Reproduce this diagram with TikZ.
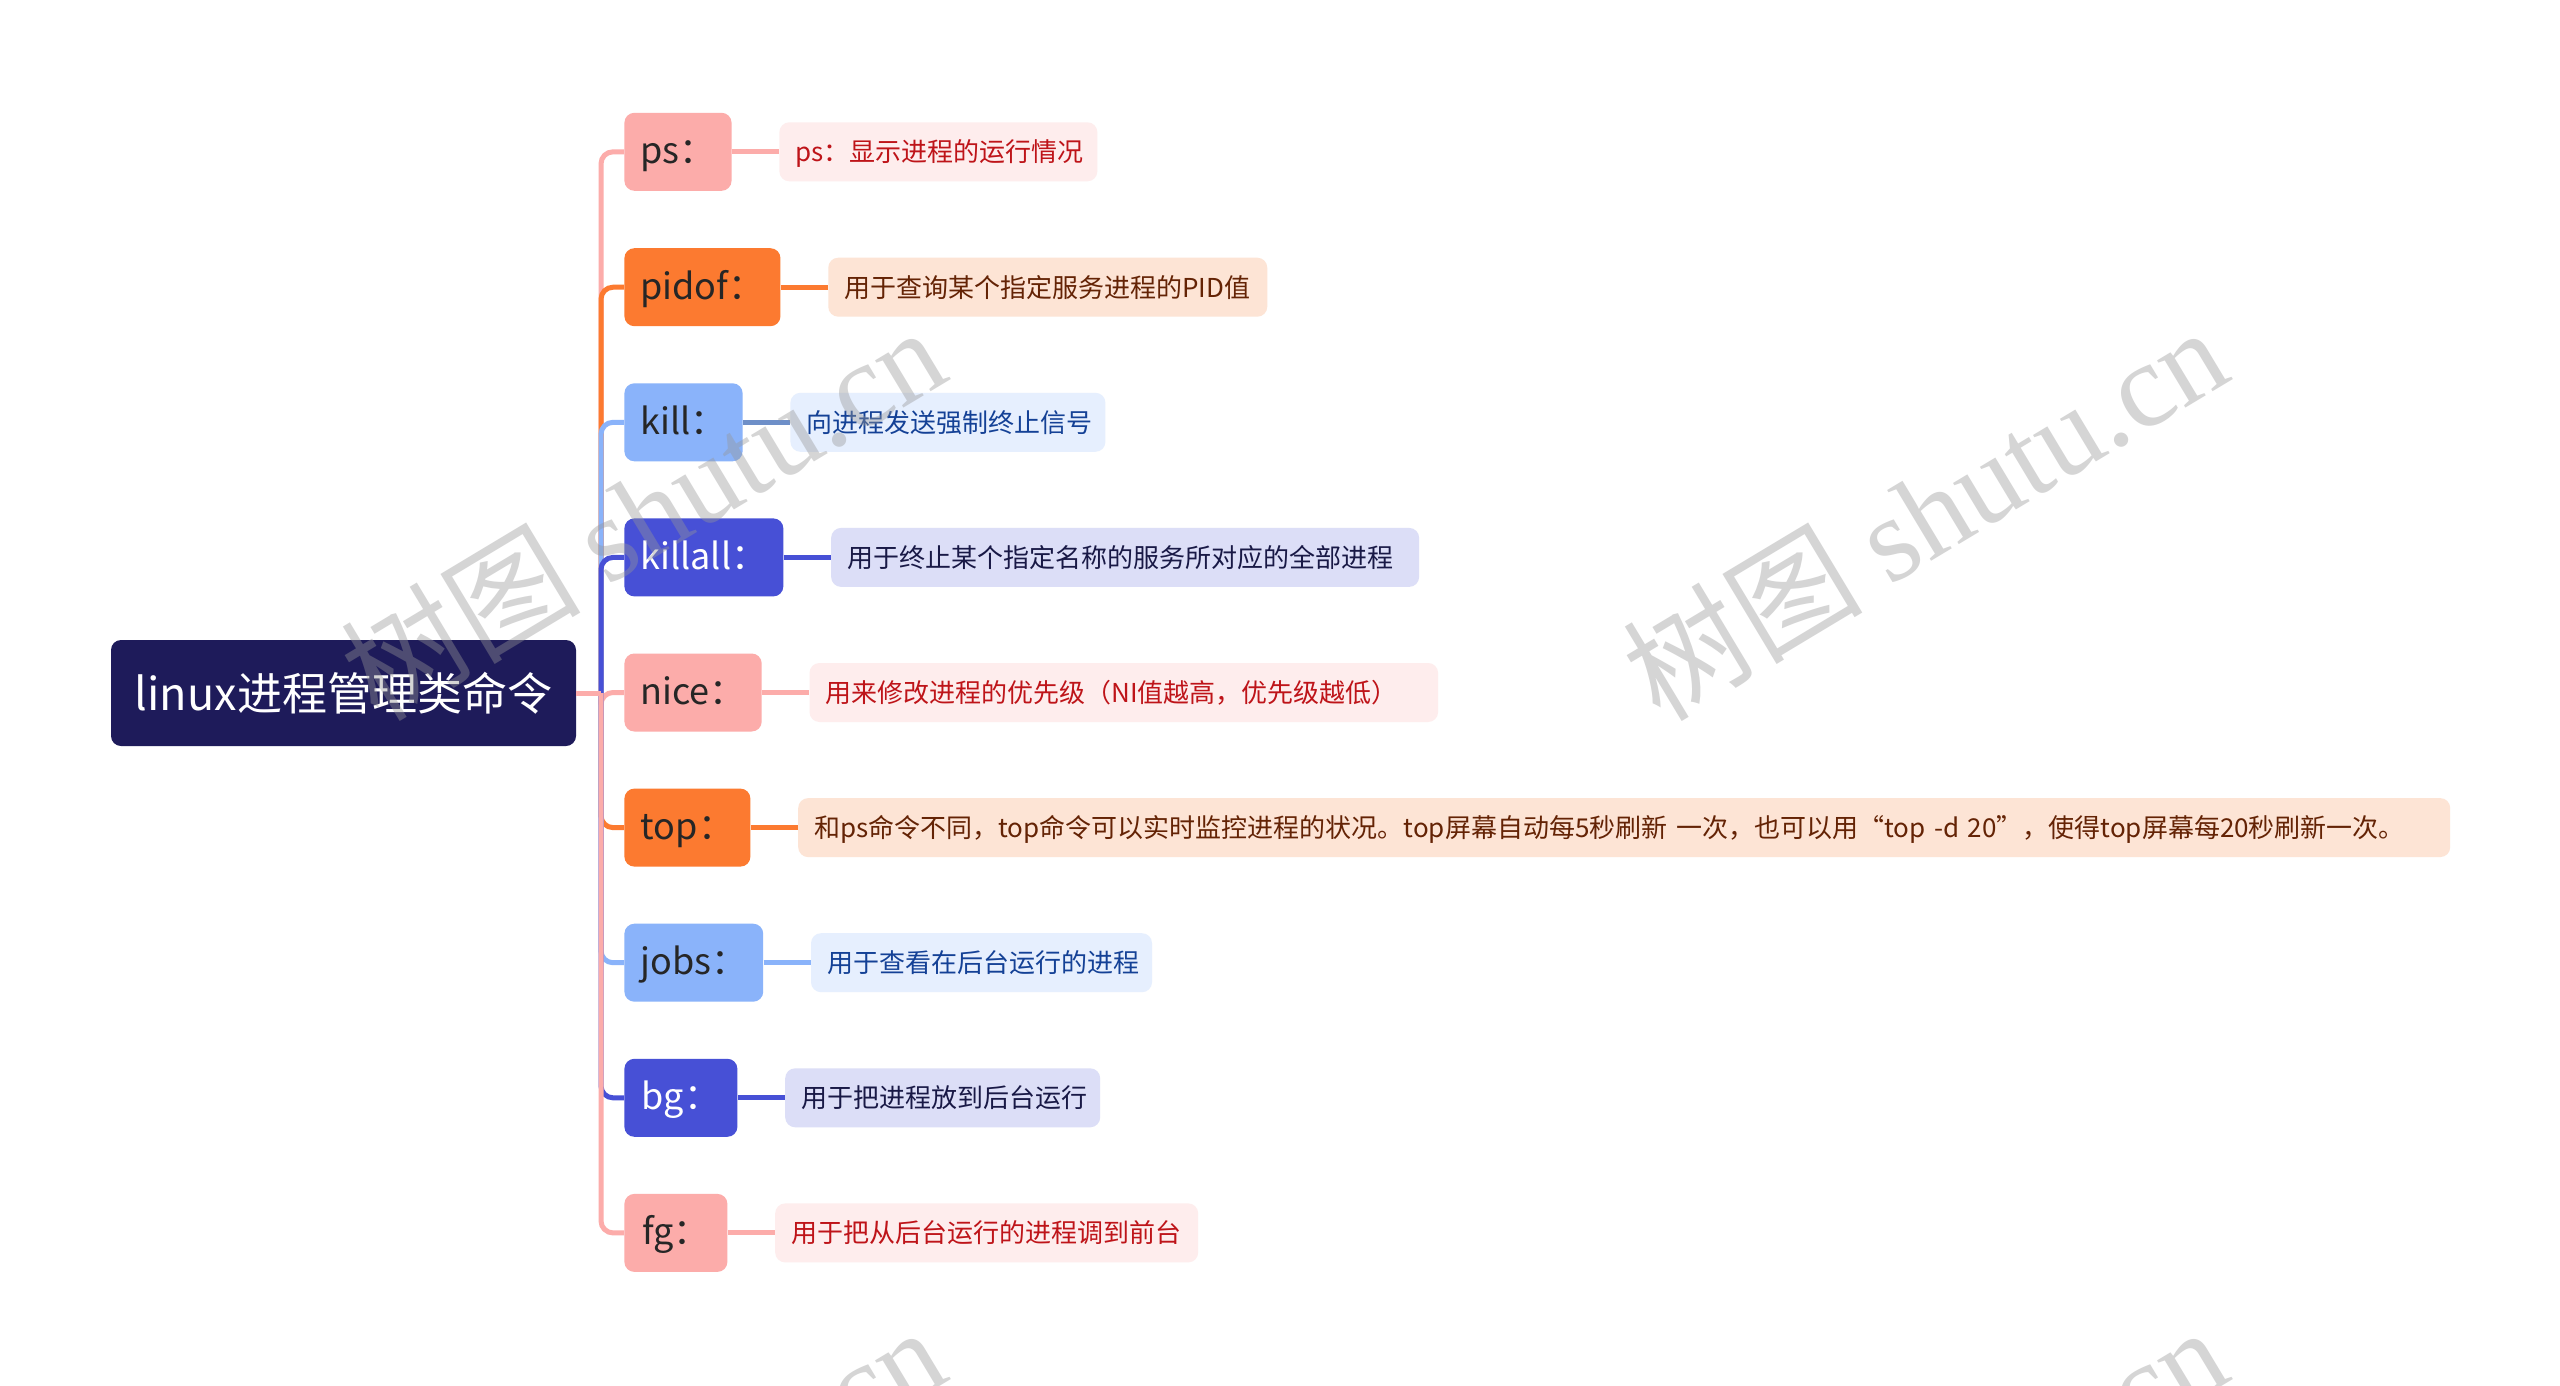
\documentclass[tikz,border=0pt]{standalone}
\usepackage{fontspec}
\setmainfont{Noto Sans CJK SC}
\newfontfamily\wmserif{Liberation Serif}
\newfontfamily\wmcjk{Noto Sans CJK SC}
\definecolor{rootc}{RGB}{30,27,90}
\definecolor{pinkN}{RGB}{252,172,170}
\definecolor{orangeN}{RGB}{252,122,48}
\definecolor{blueN}{RGB}{138,179,250}
\definecolor{indigoN}{RGB}{71,80,214}
\definecolor{pinkL}{RGB}{254,237,237}
\definecolor{pinkT}{RGB}{190,20,25}
\definecolor{orangeL}{RGB}{253,228,213}
\definecolor{orangeT}{RGB}{100,35,5}
\definecolor{blueL}{RGB}{230,239,254}
\definecolor{blueT}{RGB}{20,65,150}
\definecolor{indigoL}{RGB}{220,222,247}
\definecolor{indigoT}{RGB}{25,25,70}
\definecolor{wmgray}{RGB}{150,150,150}
\begin{document}
\begin{tikzpicture}[x=0.5pt,y=-0.5pt,
  rootn/.style={rectangle, rounded corners=5pt, fill=rootc, text=white,
    font=\fontsize{22.5}{26}\selectfont, minimum width=232.5pt, minimum height=53pt, inner sep=0pt},
  lone/.style={rectangle, rounded corners=5pt, anchor=west, text=black!85,
    font=\fontsize{18}{21}\selectfont, minimum height=39pt, inner xsep=8pt, inner ysep=0pt,
    text height=16pt, text depth=4pt},
  leaf/.style={rectangle, rounded corners=5pt, anchor=west, align=left,
    font=\fontsize{13}{15}\selectfont, minimum height=29.5pt, inner xsep=8pt, inner ysep=0pt,
    text height=13pt, text depth=3pt},
  conn/.style={line width=2.5pt, rounded corners=6pt},
  wm/.style={font=\fontsize{60}{60}\selectfont, text=wmgray, opacity=0.4, rotate=31}
]
\useasboundingbox (0,0) rectangle (2560,1386);
\fill[white] (0,0) rectangle (2560,1386);

\node[rootn] (root) at (343.5,693) {linux进程管理类命令};
\coordinate (t) at (601,693);

\node[lone, fill=pinkN, minimum width=53pt] (ps) at (624,151.8) {ps：};
\node[lone, fill=orangeN, minimum width=77.5pt] (pidof) at (624,287.2) {pidof：};
\node[lone, fill=blueN, minimum width=57pt] (kill) at (624,422.3) {kill：};
\node[lone, fill=indigoN, text=white, minimum width=75pt] (killall) at (624,557.4) {killall：};
\node[lone, fill=pinkN, minimum width=68pt] (nice) at (624,692.5) {nice：};
\node[lone, fill=orangeN, minimum width=63pt] (top) at (624,827.6) {top：};
\node[lone, fill=blueN, minimum width=68.5pt] (jobs) at (624,962.7) {jobs：};
\node[lone, fill=indigoN, text=white, minimum width=56.5pt] (bg) at (624,1097.8) {bg：};
\node[lone, fill=pinkN, minimum width=51.5pt] (fg) at (624,1232.9) {fg：};

\node[leaf, fill=pinkL, text=pinkT, text width=143pt] (psd) at ([xshift=23.5pt]ps.east) {ps：显示进程的运行情况};
\node[leaf, fill=orangeL, text=orangeT, text width=203.5pt] (pidofd) at ([xshift=23.5pt]pidof.east) {用于查询某个指定服务进程的PID值};
\node[leaf, fill=blueL, text=blueT, text width=141.5pt] (killd) at ([xshift=23.5pt]kill.east) {向进程发送强制终止信号};
\node[leaf, fill=indigoL, text=indigoT, text width=278pt] (killalld) at ([xshift=23.5pt]killall.east) {用于终止某个指定名称的服务所对应的全部进程};
\node[leaf, fill=pinkL, text=pinkT, text width=298.3pt] (niced) at ([xshift=23.5pt]nice.east) {用来修改进程的优先级（NI值越高，优先级越低）};
\node[leaf, fill=orangeL, text=orangeT, text width=810pt] (topd) at ([xshift=23.5pt]top.east) {和ps命令不同，top命令可以实时监控进程的状况。top屏幕自动每5秒刷新 一次，也可以用“top -d 20”，使得top屏幕每20秒刷新一次。};
\node[leaf, fill=blueL, text=blueT, text width=154.5pt] (jobsd) at ([xshift=23.5pt]jobs.east) {用于查看在后台运行的进程};
\node[leaf, fill=indigoL, text=indigoT, text width=141.5pt] (bgd) at ([xshift=23.5pt]bg.east) {用于把进程放到后台运行};
\node[leaf, fill=pinkL, text=pinkT, text width=195.5pt] (fgd) at ([xshift=23.5pt]fg.east) {用于把从后台运行的进程调到前台};

\draw[conn, pinkN] (t) |- (ps.west);
\draw[conn, orangeN] (t) |- (pidof.west);
\draw[conn, blueN] (t) |- (kill.west);
\draw[conn, indigoN] (t) |- (killall.west);
\draw[conn, pinkN] (t) |- (nice.west);
\draw[conn, orangeN] (t) |- (top.west);
\draw[conn, blueN] (t) |- (jobs.west);
\draw[conn, indigoN] (t) |- (bg.west);
\draw[conn, pinkN] (t) |- (fg.west);
\draw[conn, pinkN] (root.east) -- (t);

\draw[conn, pinkN] (ps.east) -- (psd.west);
\draw[conn, orangeN] (pidof.east) -- (pidofd.west);
\draw[conn, blueN!80!black] (kill.east) -- (killd.west);
\draw[conn, indigoN] (killall.east) -- (killalld.west);
\draw[conn, pinkN] (nice.east) -- (niced.west);
\draw[conn, orangeN] (top.east) -- (topd.west);
\draw[conn, blueN] (jobs.east) -- (jobsd.west);
\draw[conn, indigoN] (bg.east) -- (bgd.west);
\draw[conn, pinkN] (fg.east) -- (fgd.west);

\begin{scope}
\clip (0,0) rectangle (2560,1386);
\node[wm] (wm1) at (642,512) {\wmcjk 树图 \wmserif shutu.cn};
\node[wm] (wm2) at (1924,512) {\wmcjk 树图 \wmserif shutu.cn};
\node[wm] (wm3) at (642,1512) {\wmcjk 树图 \wmserif shutu.cn};
\node[wm] (wm4) at (1924,1512) {\wmcjk 树图 \wmserif shutu.cn};
\end{scope}
\end{tikzpicture}
\end{document}
